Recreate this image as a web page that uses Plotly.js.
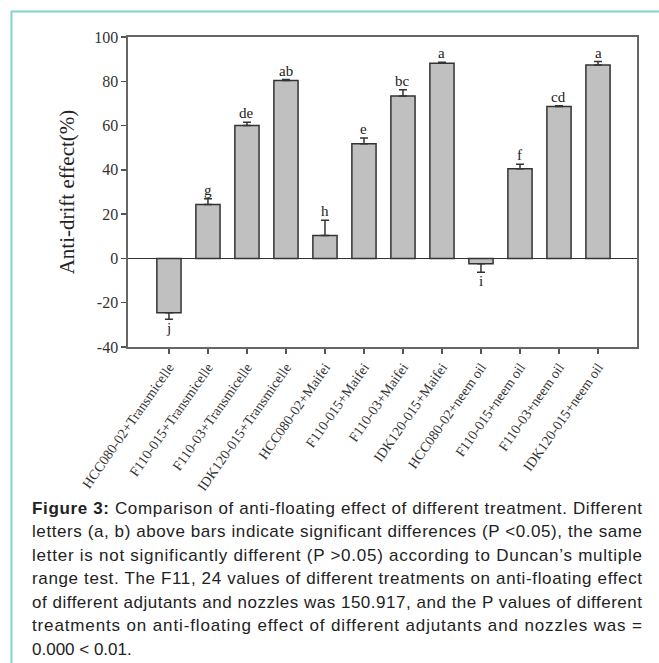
<!DOCTYPE html>
<html>
<head>
<meta charset="utf-8">
<script src="https://cdn.plot.ly/plotly-3.0.1.min.js"></script>
<style>
  html, body { margin: 0; padding: 0; background: #ffffff; }
  #chart { width: 659px; height: 663px; }
</style>
</head>
<body>
<div id="chart"></div>
<script>
// ---- data ----
const categories = [
  "HCC080-02+Transmicelle", "F110-015+Transmicelle", "F110-03+Transmicelle", "IDK120-015+Transmicelle",
  "HCC080-02+Maifei", "F110-015+Maifei", "F110-03+Maifei", "IDK120-015+Maifei",
  "HCC080-02+neem oil", "F110-015+neem oil", "F110-03+neem oil", "IDK120-015+neem oil"
];
const values = [-24.5, 24.4, 60.0, 80.4, 10.4, 51.8, 73.4, 88.2, -2.4, 40.5, 68.6, 87.3];
const errors = [3.0, 2.6, 1.5, 0.4, 6.8, 2.6, 2.8, 0.4, 3.8, 2.0, 0.4, 1.6];
const letters = ["j", "g", "de", "ab", "h", "e", "bc", "a", "i", "f", "cd", "a"];
const yTicks = [-40, -20, 0, 20, 40, 60, 80, 100];
const captionLines = [
  "<b>Figure 3:</b> Comparison of anti-floating effect of different treatment. Different",
  "letters (a, b) above bars indicate significant differences (P &lt;0.05), the same",
  "letter is not significantly different (P &gt;0.05) according to Duncan’s multiple",
  "range test. The F11, 24 values of different treatments on anti-floating effect",
  "of different adjutants and nozzles was 150.917, and the P values of different",
  "treatments on anti-floating effect of different adjutants and nozzles was =",
  "0.000 &lt; 0.01."
];

// ---- layout geometry (pixels) ----
const W = 659, H = 663;
const L = 128, R = 637, T = 37, B = 347;
const pw = R - L, ph = B - T;
const px2x = p => (p - L) / pw;
const py2y = p => (B - p) / ph;

const idx = categories.map((c, i) => i);
const serif = "Liberation Serif, Times New Roman, serif";

const trace = {
  type: "bar",
  x: idx,
  y: values,
  width: 0.62,
  marker: { color: "#c0c0c0", line: { color: "#333333", width: 1.5 } },
  error_y: {
    type: "data",
    symmetric: false,
    array: values.map((v, i) => v >= 0 ? errors[i] : 0),
    arrayminus: values.map((v, i) => v < 0 ? errors[i] : 0),
    color: "#333333",
    thickness: 1.5,
    width: 4
  },
  hoverinfo: "x+y"
};

const annotations = [];
values.forEach((v, i) => {
  const pos = v >= 0;
  annotations.push({
    x: i, y: pos ? v + errors[i] : v - errors[i],
    xref: "x", yref: "y",
    text: letters[i],
    showarrow: false,
    yanchor: pos ? "bottom" : "top",
    yshift: pos ? -1 : 1,
    font: { family: serif, size: 15, color: "#222222" }
  });
});

const capX = 30, capRight = 640;
const lineY0 = 508, lineStep = 23.5;
captionLines.forEach((t, k) => {
  annotations.push({
    x: px2x(capX), y: py2y(lineY0 + k * lineStep),
    xref: "paper", yref: "paper",
    xanchor: "left", yanchor: "middle",
    align: "left",
    text: t,
    showarrow: false,
    font: { family: "Liberation Sans, Arial, sans-serif", size: 17, color: "#222222" }
  });
});

const teal = "#7fd6cb";
const shapes = [
  { type: "line", xref: "paper", yref: "paper", x0: px2x(11.5), x1: px2x(11.5), y0: py2y(11), y1: py2y(H), line: { color: teal, width: 2 } },
  { type: "line", xref: "paper", yref: "paper", x0: px2x(11), x1: px2x(W), y0: py2y(11.5), y1: py2y(11.5), line: { color: teal, width: 2 } }
];

const layout = {
  width: W, height: H,
  margin: { l: L, r: W - R, t: T, b: H - B, pad: 0 },
  paper_bgcolor: "#ffffff",
  plot_bgcolor: "#ffffff",
  showlegend: false,
  xaxis: {
    range: [-1.05, 12],
    tickmode: "array",
    tickvals: idx,
    ticktext: categories,
    tickangle: -55,
    ticks: "outside", ticklen: 5, tickwidth: 1.3, tickcolor: "#555555",
    showline: true, linecolor: "#666666", linewidth: 1.6, mirror: true,
    showgrid: false, zeroline: false,
    tickfont: { family: serif, size: 14, color: "#333333" }
  },
  yaxis: {
    range: [-40, 100],
    tickmode: "array",
    tickvals: yTicks,
    ticktext: yTicks.map(String),
    ticks: "outside", ticklen: 5, tickwidth: 1.3, tickcolor: "#555555",
    showline: true, linecolor: "#666666", linewidth: 1.6, mirror: true,
    showgrid: false,
    zeroline: true, zerolinecolor: "#333333", zerolinewidth: 1.4,
    tickfont: { family: serif, size: 16, color: "#333333" },
    title: { text: "Anti-drift effect(%)", font: { family: serif, size: 21, color: "#222222" }, standoff: 14 }
  },
  annotations: annotations,
  shapes: shapes
};

Plotly.newPlot("chart", [trace], layout, { displayModeBar: false, staticPlot: true }).then(gd => {
  // justify the caption lines (all but the last) to the full text width
  const nLetters = letters.length;
  const groups = gd.querySelectorAll("g.annotation");
  groups.forEach((g, i) => {
    const k = i - nLetters;
    if (k < 0 || k >= captionLines.length - 1) return;
    const txt = g.querySelector("text.annotation-text");
    if (!txt) return;
    txt.setAttribute("textLength", String(capRight - capX));
    txt.setAttribute("lengthAdjust", "spacing");
  });
});
</script>
</body>
</html>
